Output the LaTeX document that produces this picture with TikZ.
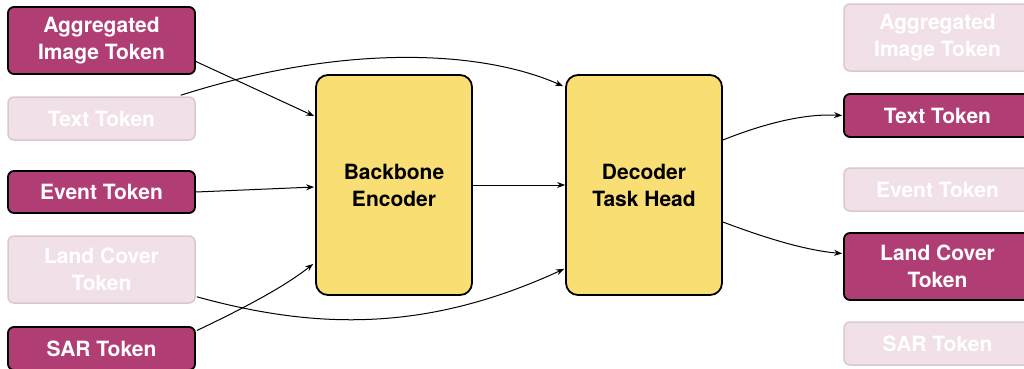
\documentclass[tikz,border=0pt]{standalone}
\usepackage{fontspec}
\setmainfont{TeX Gyre Heros}
\usetikzlibrary{arrows.meta,calc}
\definecolor{tokdark}{HTML}{B03E74}
\definecolor{tokfade}{HTML}{F2E0E9}
\definecolor{tokfadeline}{HTML}{D9C8D0}
\definecolor{blockfill}{HTML}{F9DE74}

\begin{document}
\begin{tikzpicture}[x=1pt,y=-1pt,
  tok/.style={rectangle, rounded corners=6pt, minimum width=187pt, inner sep=0pt,
    align=center, font=\fontsize{21}{27}\selectfont\bfseries, text=white},
  tokon/.style={tok, fill=tokdark, draw=black, line width=1.8pt},
  tokoff/.style={tok, fill=tokfade, draw=tokfadeline, line width=1.5pt},
  block/.style={rectangle, rounded corners=12pt, minimum width=156pt, minimum height=220pt,
    inner sep=0pt, fill=blockfill, draw=black, line width=1.8pt, align=center,
    font=\fontsize{21}{27}\selectfont\bfseries, text=black},
  link/.style={-{Stealth[length=8pt,width=6pt]}, line width=1pt}
]
\useasboundingbox (0,0) rectangle (1024,368);
\clip (0,0) rectangle (1024,368);

% input tokens
\node[tokon,  minimum height=67pt] (aggL) at (101.5,40.5)  {Aggregated\\Image Token};
\node[tokoff, minimum height=43pt] (txtL) at (101.5,118.5) {Text Token};
\node[tokon,  minimum height=42pt] (evtL) at (101.5,192)   {Event Token};
\node[tokoff, minimum height=67pt] (lcL)  at (101.5,269.5) {Land Cover\\Token};
\node[tokon,  minimum height=43pt] (sarL) at (101.5,348.5) {SAR Token};

% model blocks
\node[block] (enc) at (394,185) {Backbone\\Encoder};
\node[block] (dec) at (644,185) {Decoder\\Task Head};

% output tokens
\node[tokoff, minimum height=67pt] (aggR) at (937.5,37.5)  {Aggregated\\Image Token};
\node[tokon,  minimum height=43pt] (txtR) at (937.5,115.5) {Text Token};
\node[tokoff, minimum height=43pt] (evtR) at (937.5,189.5) {Event Token};
\node[tokon,  minimum height=67pt] (lcR)  at (937.5,266.5) {Land Cover\\Token};
\node[tokoff, minimum height=43pt] (sarR) at (937.5,343.5) {SAR Token};

% inputs into the encoder
\draw[link] ($(aggL.east)+(0,21)$) -- ($(enc.north west)+(-1,42)$);
\draw[link] (evtL.east) -- ($(enc.west)+(-1,2)$);
\draw[link] ($(sarL.east)+(1,-18)$) .. controls +(42,-20) and +(-30,24) .. ($(enc.south west)+(-2,-32)$);

% inputs passed straight to the decoder
\draw[link] ($(txtL.north east)+(-15,-1)$) .. controls +(160,-51) and +(-84,-37) .. ($(dec.north west)+(-2,12)$);
\draw[link] ($(lcL.south east)+(1,-7)$) .. controls +(123,34) and +(-135,62) .. ($(dec.south west)+(-1,-27)$);

% encoder to decoder
\draw[link] (enc.east) -- (dec.west);

% decoder outputs
\draw[link] ($(dec.east)+(0,-45)$) .. controls +(45,-18) and +(-35,-2) .. ($(txtR.west)+(-1,0)$);
\draw[link] ($(dec.east)+(0,37)$) .. controls +(45,17) and +(-35,-3) .. ($(lcR.west)+(-1,-13)$);
\end{tikzpicture}
\end{document}
